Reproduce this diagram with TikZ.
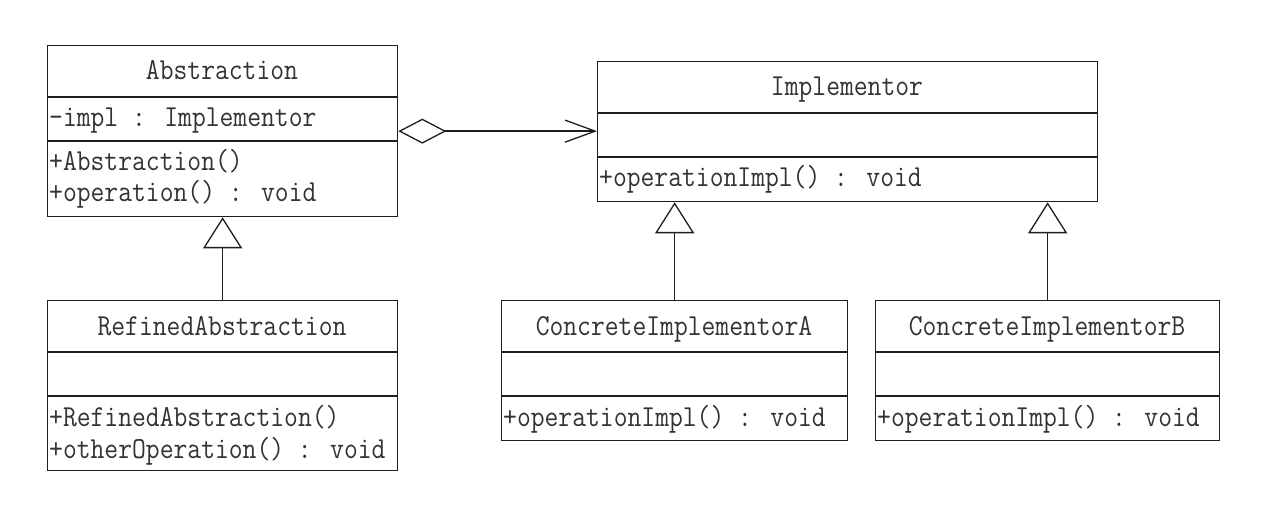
\documentclass[tikz,border=0pt]{standalone}
\usepackage{fontspec}
\usetikzlibrary{arrows.meta}
\definecolor{linec}{HTML}{1E1E1E}
\definecolor{textc}{HTML}{333333}
\newfontfamily\umlfam{Latin Modern Mono}[FakeStretch=0.88]
\newcommand\umltxt{\umlfam\fontsize{30.5}{32}\selectfont}
\begin{document}
\begin{tikzpicture}[x=1pt,y=-1pt,
  box/.style={draw=linec, line width=1.3pt, rectangle, inner sep=0pt, anchor=north west},
  title/.style={font=\umltxt, text=textc, anchor=base, inner sep=0pt},
  member/.style={font=\umltxt, text=textc, anchor=base west, inner sep=0pt},
  div/.style={draw=linec, line width=1.3pt},
  conn/.style={draw=linec, line width=1.3pt},
]
\fill[white] (0,0) rectangle (1268,510);
\useasboundingbox (0,0) rectangle (1268,510);

% Abstraction
\node[box, minimum width=350pt, minimum height=171pt] (abs) at (47,45) {};
\draw[div] ([yshift=-52pt]abs.north west) -- ([yshift=-52pt]abs.north east);
\draw[div] ([yshift=-96pt]abs.north west) -- ([yshift=-96pt]abs.north east);
\node[title] (absT) at (222,80) {Abstraction};
\node[member] (absA) at (49,127) {-impl : Implementor};
\node[member] (absM1) at (49,171) {+Abstraction()};
\node[member] (absM2) at (49,202) {+operation() : void};

% Implementor
\node[box, minimum width=500pt, minimum height=140pt] (impl) at (597,61) {};
\draw[div] ([yshift=-52pt]impl.north west) -- ([yshift=-52pt]impl.north east);
\draw[div] ([yshift=-96pt]impl.north west) -- ([yshift=-96pt]impl.north east);
\node[title] (implT) at (847,96) {Implementor};
\node[member] (implM1) at (599,187) {+operationImpl() : void};

% RefinedAbstraction
\node[box, minimum width=350pt, minimum height=170pt] (ref) at (47,300) {};
\draw[div] ([yshift=-52pt]ref.north west) -- ([yshift=-52pt]ref.north east);
\draw[div] ([yshift=-96pt]ref.north west) -- ([yshift=-96pt]ref.north east);
\node[title] (refT) at (222,335) {RefinedAbstraction};
\node[member] (refM1) at (49,426) {+RefinedAbstraction()};
\node[member] (refM2) at (49,458) {+otherOperation() : void};

% ConcreteImplementorA
\node[box, minimum width=346pt, minimum height=140pt] (ca) at (501,300) {};
\draw[div] ([yshift=-52pt]ca.north west) -- ([yshift=-52pt]ca.north east);
\draw[div] ([yshift=-96pt]ca.north west) -- ([yshift=-96pt]ca.north east);
\node[title] (caT) at (674,335) {ConcreteImplementorA};
\node[member] (caM1) at (503,426) {+operationImpl() : void};

% ConcreteImplementorB
\node[box, minimum width=344pt, minimum height=140pt] (cb) at (875,300) {};
\draw[div] ([yshift=-52pt]cb.north west) -- ([yshift=-52pt]cb.north east);
\draw[div] ([yshift=-96pt]cb.north west) -- ([yshift=-96pt]cb.north east);
\node[title] (cbT) at (1047,335) {ConcreteImplementorB};
\node[member] (cbM1) at (877,426) {+operationImpl() : void};

% aggregation
\draw[conn, {Diamond[open,length=48pt,width=25pt]}-{Straight Barb[length=30pt,width=22pt]}]
  (abs.east) -- (abs.east -| impl.west);

% generalizations
\draw[conn, -{Triangle[open,length=31pt,width=39pt]}] (ref.north) -- (abs.south);
\draw[conn, -{Triangle[open,length=31pt,width=39pt]}] (ca.north) -- (ca.north |- impl.south);
\draw[conn, -{Triangle[open,length=31pt,width=39pt]}] (cb.north) -- (cb.north |- impl.south);
\end{tikzpicture}
\end{document}
